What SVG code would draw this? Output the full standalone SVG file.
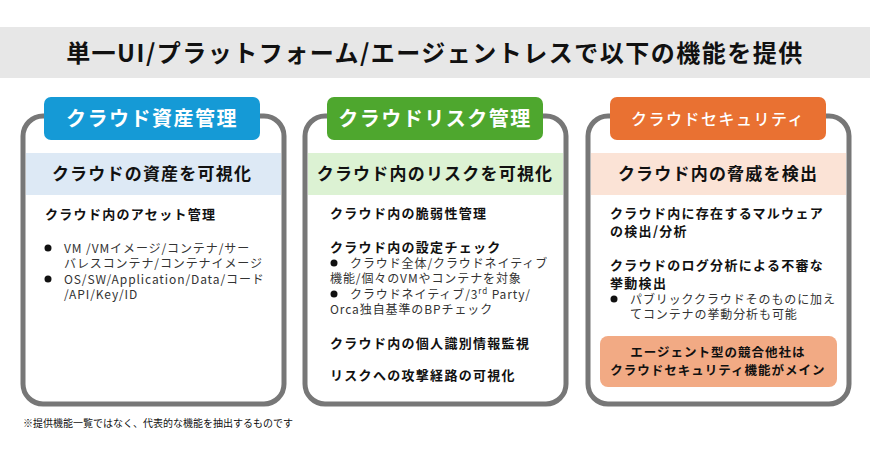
<svg xmlns="http://www.w3.org/2000/svg" width="870" height="449" viewBox="0 0 870 449">
<style>
text{font-family:"Noto Sans CJK JP","Noto Sans",sans-serif;fill:#111}
.card{fill:#fff;stroke:#777;stroke-width:5}
.tab{font-size:20px;font-weight:700;fill:#fff;text-anchor:middle;letter-spacing:1.5px}
.band{font-size:17px;font-weight:700;text-anchor:middle;letter-spacing:1.2px}
.h{font-size:13px;font-weight:700;letter-spacing:1.3px}
.b{font-size:12px;fill:#333;letter-spacing:0.9px}
</style>
<rect x="0" y="27" width="870" height="51" fill="#e7e7e7"/>
<text x="435" y="62" text-anchor="middle" font-size="24" font-weight="700" letter-spacing="1.5">単一UI/プラットフォーム/エージェントレスで以下の機能を提供</text>
<g id="asset">
<rect class="card" x="23" y="116" width="261" height="288" rx="20"/>
<rect x="44" y="97" width="216" height="43" rx="7" fill="#159ad6"/>
<text class="tab" x="152" y="126">クラウド資産管理</text>
<rect x="26" y="153" width="255" height="42" fill="#dde9f5"/>
<text class="band" x="152" y="180">クラウドの資産を可視化</text>
<text class="h" x="45" y="219">クラウド内のアセット管理</text>
<circle cx="48" cy="248" r="3.5" fill="#111"/>
<text class="b" x="64" y="253">VM /VMイメージ/コンテナ/サー</text>
<text class="b" x="64" y="268">バレスコンテナ/コンテナイメージ</text>
<circle cx="48" cy="279" r="3.5" fill="#111"/>
<text class="b" x="64" y="284">OS/SW/Application/Data/コード</text>
<text class="b" x="64" y="299">/API/Key/ID</text>
</g>
<g id="risk">
<rect class="card" x="305" y="116" width="261" height="288" rx="20"/>
<rect x="327" y="97" width="216" height="43" rx="7" fill="#4ea72e"/>
<text class="tab" x="435" y="126">クラウドリスク管理</text>
<rect x="308" y="153" width="255" height="42" fill="#dcf2d3"/>
<text class="band" x="435" y="180">クラウド内のリスクを可視化</text>
<text class="h" x="330" y="218">クラウド内の脆弱性管理</text>
<text class="h" x="330" y="252">クラウド内の設定チェック</text>
<circle cx="334" cy="263" r="3.5" fill="#111"/>
<text class="b" x="350" y="268">クラウド全体/クラウドネイティブ</text>
<text class="b" x="330" y="283">機能/個々のVMやコンテナを対象</text>
<circle cx="334" cy="294" r="3.5" fill="#111"/>
<text class="b" x="350" y="299">クラウドネイティブ/3<tspan font-size="8" dy="-5">rd</tspan><tspan dy="5"> Party/</tspan></text>
<text class="b" x="330" y="314">Orca独自基準のBPチェック</text>
<text class="h" x="330" y="348">クラウド内の個人識別情報監視</text>
<text class="h" x="330" y="380">リスクへの攻撃経路の可視化</text>
</g>
<g id="security">
<rect class="card" x="588" y="116" width="261" height="288" rx="20"/>
<rect x="610" y="97" width="216" height="43" rx="7" fill="#e97132"/>
<text class="tab" x="718" y="125" style="font-size:16px;font-weight:500;letter-spacing:1.5px">クラウドセキュリティ</text>
<rect x="591" y="153" width="255" height="42" fill="#fbe3d6"/>
<text class="band" x="718" y="180">クラウド内の脅威を検出</text>
<text class="h" x="610" y="218">クラウド内に存在するマルウェア</text>
<text class="h" x="610" y="236">の検出/分析</text>
<text class="h" x="610" y="270">クラウドのログ分析による不審な</text>
<text class="h" x="610" y="288">挙動検出</text>
<circle cx="614" cy="299" r="3.5" fill="#111"/>
<text class="b" x="630" y="304">パブリッククラウドそのものに加え</text>
<text class="b" x="630" y="319">てコンテナの挙動分析も可能</text>
<rect x="600" y="336" width="237" height="51" rx="8" fill="#f2aa84"/>
<text x="718" y="357" text-anchor="middle" font-size="12.5" font-weight="700" letter-spacing="1">エージェント型の競合他社は</text>
<text x="718" y="375" text-anchor="middle" font-size="12.5" font-weight="700" letter-spacing="1">クラウドセキュリティ機能がメイン</text>
</g>
<text x="23" y="427" font-size="10">※提供機能一覧ではなく、代表的な機能を抽出するものです</text>
</svg>
